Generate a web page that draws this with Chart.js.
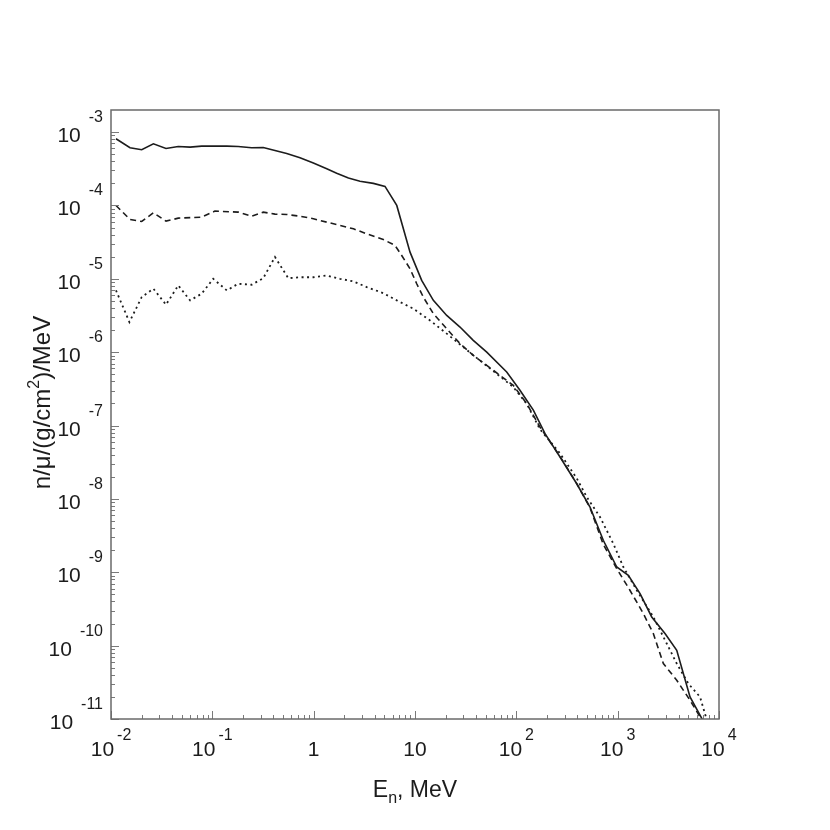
<!DOCTYPE html>
<html><head><meta charset="utf-8">
<script src="https://cdn.jsdelivr.net/npm/chart.js@4"></script>
<style>html,body{margin:0;padding:0;background:#fff}</style>
</head><body>
<canvas id="c" width="830" height="830"></canvas>
<script>
// Energies (MeV) and fluxes n/µ/(g/cm2)/MeV for the three curves
const solidE = [0.0112,0.0154,0.0201,0.0262,0.0349,0.0461,0.0603,0.0785,0.139,0.180,0.244,0.318,0.415,0.542,0.733,0.993,1.346,1.687,2.203,2.864,3.882,5.058,6.607,8.933,11.64,15.17,20.56,27.80,37.58,51.05,80.35,108.6,147.2,191.9,269.8,394.5,533.3,721.1,979.5,1274,1663,2168,2931,3828,5176,6761,7943];
const solidV = [8.11e-4,6.11e-4,5.74e-4,6.92e-4,5.98e-4,6.37e-4,6.24e-4,6.43e-4,6.43e-4,6.37e-4,6.11e-4,6.17e-4,5.61e-4,5.11e-4,4.46e-4,3.78e-4,3.16e-4,2.75e-4,2.36e-4,2.14e-4,2.00e-4,1.82e-4,1.00e-4,2.31e-5,9.51e-6,5.08e-6,3.17e-6,2.20e-6,1.45e-6,1.00e-6,5.36e-7,3.03e-7,1.62e-7,7.76e-8,3.72e-8,1.61e-8,7.76e-9,2.73e-9,1.18e-9,9.10e-10,5.13e-10,2.46e-10,1.46e-10,8.65e-11,2.00e-11,1.02e-11,6.3e-12];

const dashedE = [0.0112,0.0154,0.0201,0.0262,0.0349,0.0461,0.0785,0.106,0.180,0.244,0.318,0.415,0.542,0.733,0.993,1.346,1.820,2.466,3.334,4.864,6.353,7.396,8.933,10.40,12.08,15.17,20.56,27.80,37.58,51.05,69.02,93.33,126.5,171.0,269.8,394.5,533.3,721.1,979.5,1321,1791,2249,2825,3828,5176,6501,7586];
const dashedV = [1.00e-4,6.44e-5,6.05e-5,7.94e-5,6.11e-5,6.71e-5,6.93e-5,8.38e-5,8.11e-5,7.14e-5,8.11e-5,7.62e-5,7.53e-5,7.14e-5,6.59e-5,5.92e-5,5.35e-5,4.81e-5,4.11e-5,3.44e-5,2.85e-5,2.08e-5,1.37e-5,8.57e-6,5.64e-6,3.35e-6,2.09e-6,1.31e-6,9.04e-7,6.61e-7,4.83e-7,3.53e-7,1.99e-7,9.55e-8,3.80e-8,1.62e-8,7.59e-9,2.40e-9,1.12e-9,5.69e-10,2.74e-10,1.46e-10,5.70e-11,3.38e-11,1.80e-11,1.07e-11,7.1e-12];

const dottedE = [0.0112,0.0152,0.0201,0.0262,0.0349,0.0461,0.0603,0.0785,0.102,0.139,0.180,0.244,0.318,0.415,0.562,0.733,0.993,1.346,1.820,2.466,3.334,4.864,6.607,9.616,14.06,20.56,29.99,43.75,63.97,93.33,126.5,171.0,269.8,394.5,495.5,669.9,905.7,1138,1542,2249,3048,3828,4977,6501,7568,8511];
const dottedV = [6.95e-6,2.57e-6,5.64e-6,7.33e-6,4.44e-6,8.13e-6,5.08e-6,6.27e-6,1.00e-5,6.95e-6,8.57e-6,8.30e-6,1.02e-5,1.98e-5,1.02e-5,1.05e-5,1.05e-5,1.11e-5,1.00e-5,9.23e-6,7.71e-6,6.38e-6,5.08e-6,3.92e-6,2.71e-6,1.79e-6,1.17e-6,7.69e-7,5.09e-7,3.34e-7,1.99e-7,8.91e-8,4.17e-8,1.91e-8,1.06e-8,5.66e-9,2.46e-9,1.18e-9,5.69e-10,2.46e-10,1.07e-10,5.70e-11,3.04e-11,2.00e-11,9.77e-12,6.3e-12];

// Axis ranges and tick labels
const xMin = 0.01, xMax = 10000;
const yMin = 1e-11, yMax = 2e-3;
const xTickValues = [0.01,0.1,1,10,100,1000,10000];
const xTickBase = ['10','10','1','10','10','10','10'];
const xTickExp  = ['-2','-1','','','2','3','4'];
const yTickValues = [1e-3,1e-4,1e-5,1e-6,1e-7,1e-8,1e-9,1e-10,1e-11];
const yTickBase = ['10','10','10','10','10','10','10','10','10'];
const yTickExp  = ['-3','-4','-5','-6','-7','-8','-9','-10','-11'];
const xTitleMain = 'E', xTitleSub = 'n', xTitleRest = ', MeV';
const yTitleA = 'n/\u03bc/(g/cm', yTitleSup = '2', yTitleB = ')/MeV';

const pts = (E, V) => E.map((e, i) => ({x: e, y: V[i]}));
const INK = '#1c1c1c';
const FONT = '"Liberation Sans", Arial, Helvetica, sans-serif';

const decor = {
  id: 'decor',
  afterDraw(chart) {
    const ctx = chart.ctx, a = chart.chartArea;
    const xs = chart.scales.x, ys = chart.scales.y;
    ctx.save();
    // ticks (inside, left and bottom only)
    ctx.strokeStyle = '#7a7a7a';
    ctx.lineWidth = 1;
    ctx.beginPath();
    for (let d = -2; d <= 4; d++) {
      for (let k = 1; k <= 9; k++) {
        const v = k * Math.pow(10, d);
        if (v < xMin * 0.999 || v > xMax * 1.001) continue;
        const px = Math.round(xs.getPixelForValue(v)) + 0.5;
        const len = k === 1 ? 8 : 4;
        ctx.moveTo(px, a.bottom); ctx.lineTo(px, a.bottom - len);
      }
    }
    for (let d = -11; d <= -3; d++) {
      for (let k = 1; k <= 9; k++) {
        const v = k * Math.pow(10, d);
        if (v < yMin * 0.999 || v >= yMax * 0.999) continue;
        const py = Math.round(ys.getPixelForValue(v)) + 0.5;
        const len = k === 1 ? 8 : 4;
        ctx.moveTo(a.left, py); ctx.lineTo(a.left + len, py);
      }
    }
    ctx.stroke();
    // frame
    ctx.strokeStyle = '#6a6a6a';
    ctx.lineWidth = 1.5;
    ctx.strokeRect(a.left, a.top, a.right - a.left, a.bottom - a.top);

    ctx.fillStyle = INK;
    const bigF = '21px ' + FONT, smallF = '16px ' + FONT;
    ctx.textBaseline = 'alphabetic';
    // x tick labels
    xTickValues.forEach((v, i) => {
      const px = xs.getPixelForValue(v);
      ctx.font = bigF; const wb = ctx.measureText(xTickBase[i]).width;
      ctx.font = smallF; const we = xTickExp[i] ? ctx.measureText(xTickExp[i]).width : 0;
      const gap = we ? 3 : 0;
      const x0 = px - (wb + gap + we) / 2;
      ctx.textAlign = 'left';
      ctx.font = bigF; ctx.fillText(xTickBase[i], x0, a.bottom + 37);
      if (we) { ctx.font = smallF; ctx.fillText(xTickExp[i], x0 + wb + gap, a.bottom + 21); }
    });
    // y tick labels
    yTickValues.forEach((v, i) => {
      const py = ys.getPixelForValue(v);
      const expRight = a.left - 8;
      ctx.font = smallF; const we = ctx.measureText(yTickExp[i]).width;
      ctx.textAlign = 'right';
      ctx.fillText(yTickExp[i], expRight, py - 10);
      ctx.font = bigF;
      ctx.fillText(yTickBase[i], expRight - we - 8, py + 10);
    });
    // x title
    const tF = '23px ' + FONT, tS = '16px ' + FONT;
    ctx.font = tF; const w1 = ctx.measureText(xTitleMain).width, w3 = ctx.measureText(xTitleRest).width;
    ctx.font = tS; const w2 = ctx.measureText(xTitleSub).width;
    let cx = (a.left + a.right) / 2 - (w1 + w2 + w3) / 2;
    const by = a.bottom + 78;
    ctx.textAlign = 'left';
    ctx.font = tF; ctx.fillText(xTitleMain, cx, by); cx += w1;
    ctx.font = tS; ctx.fillText(xTitleSub, cx, by + 6); cx += w2;
    ctx.font = tF; ctx.fillText(xTitleRest, cx, by);
    // y title (rotated)
    const yF = '24px ' + FONT, yS = '16px ' + FONT;
    ctx.save();
    ctx.translate(50, (a.top + a.bottom) / 2 - 12);
    ctx.rotate(-Math.PI / 2);
    ctx.font = yF; const u1 = ctx.measureText(yTitleA).width, u3 = ctx.measureText(yTitleB).width;
    ctx.font = yS; const u2 = ctx.measureText(yTitleSup).width;
    let tx = -(u1 + u2 + u3) / 2;
    ctx.font = yF; ctx.fillText(yTitleA, tx, 0); tx += u1;
    ctx.font = yS; ctx.fillText(yTitleSup, tx, -11); tx += u2;
    ctx.font = yF; ctx.fillText(yTitleB, tx, 0);
    ctx.restore();
    ctx.restore();
  }
};

new Chart(document.getElementById('c'), {
  type: 'line',
  data: {
    datasets: [
      {label: 'solid', data: pts(solidE, solidV), borderColor: INK, borderWidth: 1.6, pointRadius: 0, tension: 0, fill: false},
      {label: 'dashed', data: pts(dashedE, dashedV), borderColor: INK, borderWidth: 1.6, borderDash: [6, 4], pointRadius: 0, tension: 0, fill: false},
      {label: 'dotted', data: pts(dottedE, dottedV), borderColor: INK, borderWidth: 1.8, borderDash: [2, 3.5], pointRadius: 0, tension: 0, fill: false}
    ]
  },
  options: {
    responsive: false,
    animation: false,
    devicePixelRatio: 1,
    parsing: true,
    layout: {padding: {left: 111, top: 110, right: 111, bottom: 111}},
    plugins: {legend: {display: false}, tooltip: {enabled: false}},
    scales: {
      x: {type: 'logarithmic', min: xMin, max: xMax, display: false},
      y: {type: 'logarithmic', min: yMin, max: yMax, display: false}
    }
  },
  plugins: [decor]
});
</script>
</body></html>
